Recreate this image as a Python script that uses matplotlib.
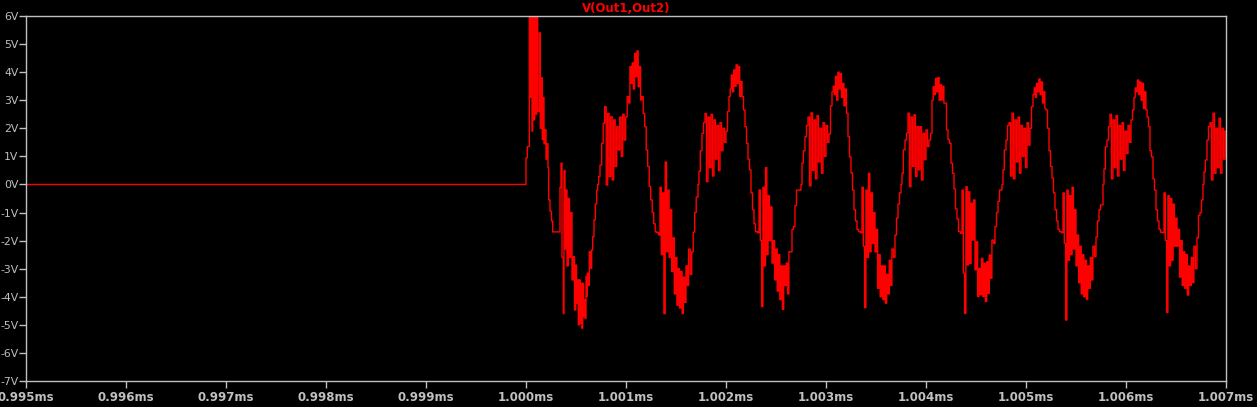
import numpy as np
import matplotlib.pyplot as plt

# time in microseconds, voltage in volts
# start-up burst right after the switch-on at 1.000 ms
startup_t = [995.0, 1000.0, 1000.013, 1000.033, 1000.043, 1000.05, 1000.06, 1000.067, 1000.077,
             1000.087, 1000.097, 1000.107, 1000.117, 1000.133, 1000.143, 1000.155, 1000.163,
             1000.173, 1000.18, 1000.19, 1000.20, 1000.21, 1000.22, 1000.227, 1000.24,
             1000.255, 1000.267,
             1000.34, 1000.35, 1000.36, 1000.373, 1000.38, 1000.39, 1000.40, 1000.41,
             1000.423, 1000.435, 1000.447, 1000.46, 1000.473,
             1000.485, 1000.497, 1000.505, 1000.513, 1000.523, 1000.533, 1000.542, 1000.55,
             1000.558, 1000.567, 1000.575, 1000.583, 1000.592, 1000.60, 1000.607, 1000.613,
             1000.623, 1000.633, 1000.647, 1000.657, 1000.667, 1000.68, 1000.693, 1000.707]
startup_v = [0.0, 0.95, 1.35, 6.0, 3.1, 6.0, 1.9, 6.0, 2.3,
             6.0, 2.5, 6.0, 2.6, 5.4, 2.0, 3.8, 1.6,
             3.1, 1.45, 1.95, 0.9, 1.45, 0.6, -0.55, -0.95,
             -1.3, -1.69,
             -0.1, 0.76, -2.6, -4.6, 0.5, -2.3, -0.2, -2.9,
             -0.5, -2.6, -1.0, -3.4, -2.57,
             -4.47, -2.87, -4.23, -3.4, -5.0, -3.4, -4.95, -3.52,
             -5.12, -3.52, -4.71, -4.11, -4.77, -3.28, -3.99, -3.16,
             -3.6, -2.39, -2.99, -2.33, -1.86, -1.26, -0.7, -0.2]

# sample times inside one period, measured from the upward zero crossing (us)
cycle_offsets = [0.0, 0.01, 0.023, 0.04, 0.055,
                 0.07, 0.085, 0.10, 0.115, 0.13, 0.145, 0.16, 0.175, 0.19, 0.205, 0.22, 0.235, 0.25, 0.265,
                 0.28, 0.295, 0.31, 0.322,
                 0.333, 0.345, 0.357, 0.369, 0.381, 0.393, 0.405, 0.417, 0.429, 0.441,
                 0.455, 0.47, 0.485, 0.50, 0.515, 0.53, 0.545, 0.56,
                 0.575, 0.595,
                 0.61, 0.623, 0.636, 0.649, 0.662, 0.675, 0.688, 0.701, 0.714, 0.727,
                 0.74, 0.753, 0.766, 0.779, 0.792, 0.805, 0.818, 0.831, 0.844, 0.857, 0.87, 0.883, 0.896, 0.909,
                 0.925, 0.94, 0.955, 0.97, 0.985]

cycle_starts = [1000.717, 1001.72, 1002.75, 1003.75, 1004.76, 1005.77, 1006.77]

cycle_a = [0.0, 0.28, 0.69, 1.47, 2.18,
           2.77, -0.02, 2.53, 0.28, 2.41, 0.16, 2.3, 0.64, 2.06, 1.23, 2.4, 1.0, 2.5, 1.58,
           2.41, 3.13, 2.9, 4.2,
           3.6, 4.33, 3.4, 4.67, 3.84, 4.76, 3.48, 4.2, 3.01, 3.13,
           2.53, 2.06, 1.23, 0.64, -0.07, -0.55, -1.0, -1.4,
           -1.69, -1.72,
           -1.8, -0.1, -2.5, -0.3, -4.6, 0.8, -2.4, -0.2, -2.6, -0.9,
           -3.1, -1.9, -3.9, -2.6, -4.3, -3.0, -4.4, -3.1, -4.6, -3.3, -4.2, -2.9, -3.6, -2.3,
           -3.2, -2.4, -1.7, -1.0, -0.45]
cycle_b = [0.0, 0.47, 1.2, 1.82, 2.2,
           2.53, 0.1, 2.4, 0.6, 2.5, 0.3, 2.3, 0.9, 2.1, 0.5, 2.2, 1.2, 2.0, 1.5,
           1.9, 2.6, 3.13, 3.4,
           3.9, 3.3, 4.08, 3.5, 4.26, 3.6, 4.2, 3.13, 3.66, 3.13,
           2.65, 2.06, 1.47, 0.9, 0.52, -0.3, -0.9, -1.4,
           -1.68, -1.72,
           -0.2, -2.0, -4.35, -0.1, -2.9, 0.6, -2.5, -0.4, -2.0, -0.8,
           -2.8, -2.0, -3.4, -2.3, -3.8, -2.5, -4.1, -2.9, -4.45, -2.9, -3.6, -2.8, -3.9, -2.4,
           -2.4, -1.6, -1.5, -0.75, -0.2]
cycle_c = [0.0, 0.76, 1.2, 1.7, 2.1,
           2.4, -0.05, 2.55, 0.5, 2.3, 0.2, 2.45, 0.8, 2.0, 0.4, 2.2, 1.0, 2.1, 1.5,
           1.8, 2.8, 3.3, 3.5,
           3.2, 3.85, 3.0, 4.0, 3.4, 3.95, 3.1, 3.6, 2.8, 3.4,
           2.54, 1.7, 0.98, 0.41, -0.2, -0.9, -1.3, -1.6,
           -1.68, -1.72,
           -0.1, -2.2, -4.39, -0.2, -2.6, 0.4, -2.4, -0.3, -2.1, -1.0,
           -2.4, -1.6, -3.7, -2.5, -4.0, -2.9, -4.1, -2.9, -4.23, -3.2, -3.9, -2.7, -3.6, -2.3,
           -2.6, -1.8, -1.2, -0.7, -0.3]
cycle_d = [0.0, 0.4, 1.23, 1.58, 1.83,
           2.54, -0.08, 2.4, 0.64, 2.48, 0.28, 2.06, 0.52, 2.06, 0.16, 1.82, 0.88, 1.94, 1.35,
           1.58, 1.82, 3.0, 3.48,
           3.2, 3.78, 3.3, 3.81, 3.0, 3.55, 3.01, 3.5, 2.9, 2.9,
           1.94, 1.6, 1.47, 0.76, 0.4, -0.16, -0.87, -1.23,
           -1.68, -1.74,
           -0.2, -3.16, -4.59, -0.08, -2.87, -0.26, -2.81, -0.67, -1.98, -0.55,
           -3.04, -2.04, -3.99, -2.99, -3.93, -2.63, -3.99, -2.81, -4.17, -2.75, -3.88, -2.51, -3.34, -1.98,
           -2.1, -1.5, -1.0, -0.6, -0.2]
cycle_e = [0.0, 0.52, 1.23, 1.58, 2.1,
           2.2, 0.3, 2.54, 0.2, 2.3, 0.8, 2.4, 0.4, 2.1, 1.0, 2.0, 0.6, 2.2, 1.4,
           2.0, 2.77, 3.2, 3.44,
           3.1, 3.6, 3.3, 3.76, 3.2, 3.65, 2.9, 3.3, 2.7, 2.65,
           2.0, 1.2, 0.64, 0.23, -0.3, -0.9, -1.3, -1.6,
           -1.68, -1.72,
           -0.3, -2.1, -4.83, -0.2, -2.7, -0.4, -2.5, -0.1, -2.3, -0.9,
           -2.9, -1.8, -3.5, -2.2, -3.9, -2.5, -4.0, -2.7, -4.09, -2.9, -3.7, -2.6, -3.4, -2.2,
           -2.57, -1.87, -1.3, -0.9, -0.73]
cycle_f = [0.0, 0.55, 1.34, 1.58, 2.06,
           2.5, 0.2, 2.3, 0.6, 2.45, 0.3, 2.1, 0.9, 2.2, 0.5, 1.9, 1.1, 2.1, 1.5,
           2.3, 2.65, 3.1, 3.44,
           3.3, 3.72, 3.2, 3.65, 3.0, 3.6, 2.7, 3.3, 2.65, 2.4,
           2.06, 1.2, 0.98, 0.2, -0.2, -0.9, -1.3, -1.6,
           -1.7, -1.72,
           -0.3, -2.0, -4.56, -0.4, -2.9, -0.5, -2.7, -0.7, -2.2, -1.2,
           -2.2, -1.6, -3.3, -2.0, -3.6, -2.4, -3.7, -2.5, -3.94, -2.9, -3.6, -2.6, -3.5, -2.2,
           -3.0, -1.9, -1.1, -1.0, -0.55]
# last period is cut off by the end of the window
cycle_g = [0.0, 0.45, 0.87, 1.58, 2.06,
           2.2, 0.16, 2.54, 0.4, 2.0, 0.6, 2.36, 0.4, 2.0, 0.9, 1.9, 1.0]

cycles = [cycle_a, cycle_b, cycle_c, cycle_d, cycle_e, cycle_f, cycle_g]

t = list(startup_t)
v = list(startup_v)
for t0, vals in zip(cycle_starts, cycles):
    t += [t0 + dt for dt in cycle_offsets[:len(vals)]]
    v += vals

x_ticks = np.arange(995, 1008)
y_ticks = np.arange(-7, 7)

fg = '#c0c0c0'
fig = plt.figure(figsize=(12.57, 4.07), dpi=100, facecolor='black')
ax = fig.add_axes([26/1257, 26/407, 1200/1257, 365/407], facecolor='black')

ax.plot(t, v, color='#ff0000', linewidth=1.0, drawstyle='steps-post')

ax.set_xlim(995, 1007)
ax.set_ylim(-7, 6)
ax.set_xticks(x_ticks)
ax.set_xticklabels([f"{x/1000:.3f}ms" for x in x_ticks])
ax.set_yticks(y_ticks)
ax.set_yticklabels([f"{y}V" for y in y_ticks])

for s in ax.spines.values():
    s.set_color(fg)
    s.set_linewidth(1.0)
ax.tick_params(colors=fg, length=5, width=1)
ax.tick_params(axis='x', labelsize=8.5, pad=2)
ax.tick_params(axis='y', labelsize=7.8, pad=0.5)
for lab in ax.get_xticklabels():
    lab.set_fontweight('bold')

ax.set_title("V(Out1,Out2)", color='#ff0000', fontsize=8.5, fontweight='bold', pad=3)

fig.savefig('out.png', dpi=100, facecolor='black')
